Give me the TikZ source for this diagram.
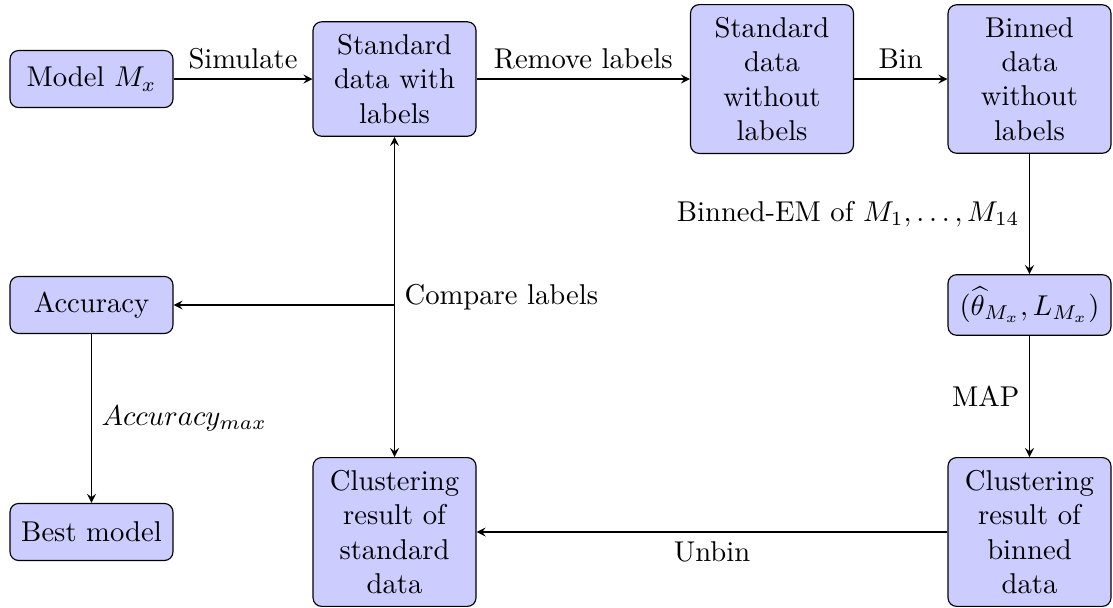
\documentclass[tikz,border=0pt]{standalone}
\usetikzlibrary{arrows}
\begin{document}
\begin{tikzpicture}[
  box/.style={draw, rounded corners=3pt, fill=blue!20, minimum width=2cm, minimum height=0.7cm, align=center, inner xsep=3.33pt, inner ysep=4.4pt},
  conn/.style={-stealth},
]
\useasboundingbox (0,0) rectangle (13.66,-7.45);
\node[box] (model) at (1.123,-0.970) {Model $M_x$};
\node[box] (swl) at (4.842,-0.970) {Standard\\data with\\labels};
\node[box] (swo) at (9.475,-0.970) {Standard\\data\\without\\labels};
\node[box] (bwo) at (12.635,-0.970) {Binned\\data\\without\\labels};
\node[box] (theta) at (12.635,-3.743) {$(\widehat{\theta}_{M_x},L_{M_x})$};
\node[box] (cbin) at (12.635,-6.529) {Clustering\\result of\\binned\\data};
\node[box] (cstd) at (4.842,-6.529) {Clustering\\result of\\standard\\data};
\node[box] (acc) at (1.123,-3.743) {Accuracy};
\node[box] (best) at (1.123,-6.529) {Best model};
\coordinate (junc) at (4.842,-3.743);

\draw[conn] (model) -- node[above] {Simulate} (swl);
\draw[conn] (swl) -- node[above] {Remove labels} (swo);
\draw[conn] (swo) -- node[above] {Bin} (bwo);
\draw[conn] (bwo) -- node[left] {Binned-EM of $M_1,\ldots,M_{14}$} (theta);
\draw[conn] (theta) -- node[left] {MAP} (cbin);
\draw[conn] (cbin) -- node[below] {Unbin} (cstd);
\draw[stealth-stealth] (swl) -- node[right] {Compare labels} (cstd);
\draw[conn] (junc) -- (acc);
\draw[conn] (acc) -- node[right] {$Accuracy_{max}$} (best);
\end{tikzpicture}
\end{document}
